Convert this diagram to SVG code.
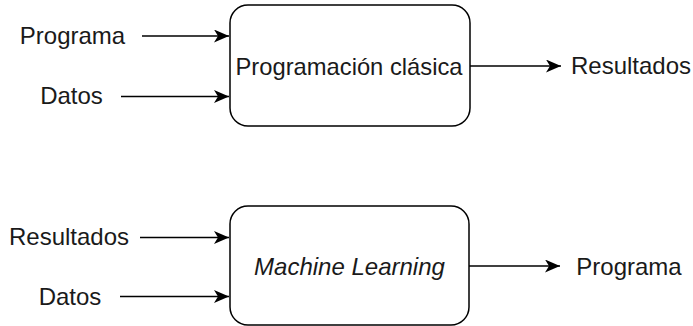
<svg xmlns="http://www.w3.org/2000/svg" width="693" height="326" viewBox="0 0 693 326">
<style>
.box{fill:#fff;stroke:#000;stroke-width:1.5}
.c{stroke:#000;stroke-width:1.5;fill:none}
text{font-family:"Liberation Sans",Arial,Helvetica,sans-serif;font-size:24px;fill:#1a1a1a;text-anchor:middle}
.it{font-style:italic}
</style>
<defs>
<marker id="ah" markerWidth="16" markerHeight="13" refX="15" refY="6.5" orient="auto" markerUnits="userSpaceOnUse">
<path d="M0,0 L15,6.5 L0,13 L4,6.5 Z" fill="#000"/>
</marker>
</defs>
<rect width="693" height="326" fill="#fff"/>
<g id="connectors">
<line class="c" x1="142" y1="36" x2="229" y2="36" marker-end="url(#ah)"/>
<line class="c" x1="121" y1="96.5" x2="229" y2="96.5" marker-end="url(#ah)"/>
<line class="c" x1="470" y1="66" x2="561" y2="66" marker-end="url(#ah)"/>
<line class="c" x1="140" y1="237.5" x2="229" y2="237.5" marker-end="url(#ah)"/>
<line class="c" x1="120" y1="296.5" x2="229" y2="296.5" marker-end="url(#ah)"/>
<line class="c" x1="469" y1="266" x2="560" y2="266" marker-end="url(#ah)"/>
</g>
<g id="clasica">
<rect class="box" x="230" y="5" width="240" height="121" rx="18" ry="18"/>
<text x="349" y="74.5" textLength="227" lengthAdjust="spacingAndGlyphs">Programación clásica</text>
</g>
<g id="ml">
<rect class="box" x="230" y="206" width="239" height="119" rx="18" ry="18"/>
<text class="it" x="349.5" y="275">Machine Learning</text>
</g>
<g id="in-programa"><text x="72.5" y="43.5">Programa</text></g>
<g id="in-datos1"><text x="71.5" y="104">Datos</text></g>
<g id="out-resultados"><text x="631" y="74">Resultados</text></g>
<g id="in-resultados"><text x="69" y="245">Resultados</text></g>
<g id="in-datos2"><text x="70" y="305">Datos</text></g>
<g id="out-programa"><text x="629" y="275">Programa</text></g>
</svg>
